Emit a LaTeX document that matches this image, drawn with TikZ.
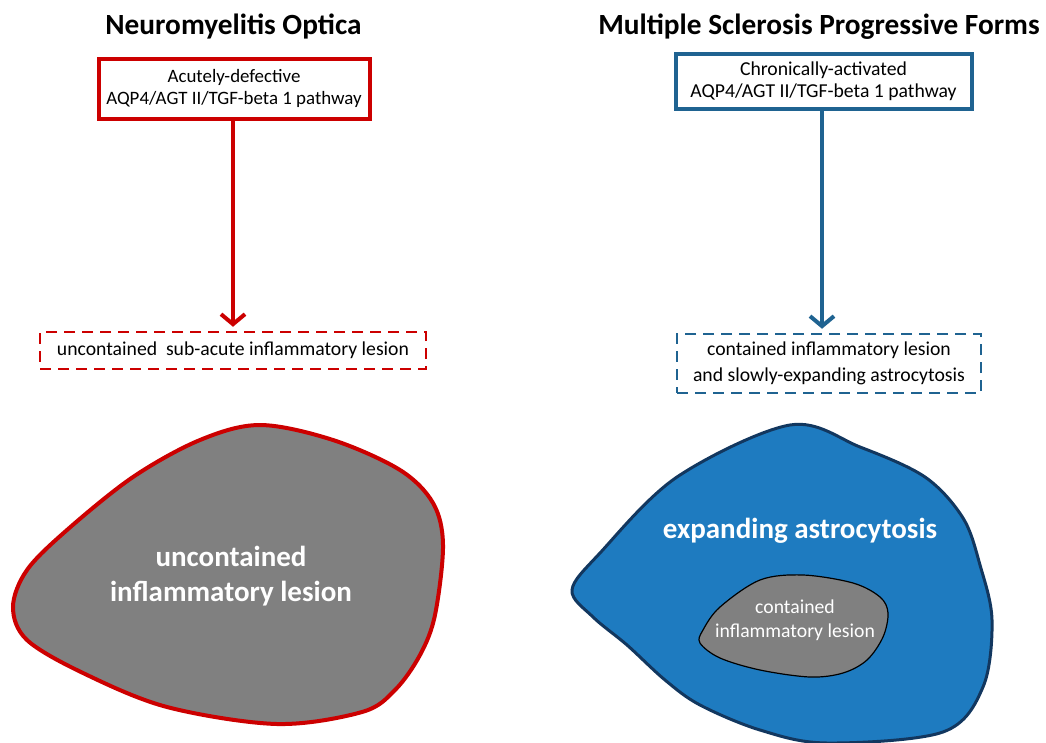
\documentclass[tikz,border=0pt]{standalone}
\usepackage{fontspec}
\setmainfont{Carlito}
\usetikzlibrary{arrows.meta}
\definecolor{nmored}{HTML}{CC0000}
\definecolor{msblue}{HTML}{1F6391}
\definecolor{blobblue}{HTML}{1E7BC0}
\definecolor{blobedge}{HTML}{12375F}
\definecolor{lesiongray}{HTML}{808080}
\begin{document}
\begin{tikzpicture}[x=1pt,y=-1pt,
  title/.style={font=\fontsize{29.3}{34}\selectfont\bfseries, anchor=center},
  pathbox/.style={draw, line width=4pt, fill=white, align=center, font=\fontsize{19.7}{22.5}\selectfont, inner sep=0pt},
  dashbox/.style={draw, line width=2.5pt, dash pattern=on 11pt off 7pt, fill=white, align=center, font=\fontsize{19.7}{26}\selectfont, inner sep=0pt},
  flow/.style={line width=4pt, -{Straight Barb[length=10pt,width=24pt]}, shorten >=4pt},
  bigtext/.style={text=white, font=\fontsize{29}{35}\selectfont\bfseries, align=center},
  smalltext/.style={text=white, font=\fontsize{19.7}{24}\selectfont, align=center}
]
\useasboundingbox (0,0) rectangle (1046,742);

% titles
\node[title] (t1) at (233.5,27) {Neuromyelitis Optica};
\node[title] (t2) at (819,27) {Multiple Sclerosis Progressive Forms};

% pathway boxes
\node[pathbox, draw=nmored, minimum width=271pt, minimum height=60pt, font=\fontsize{18.9}{22.5}\selectfont] (rbox) at (234,88.5) {Acutely-defective\\AQP4/AGT II/TGF-beta 1 pathway};
\node[pathbox, draw=msblue, minimum width=296pt, minimum height=55pt] (bbox) at (823.5,81) {Chronically-activated\\AQP4/AGT II/TGF-beta 1 pathway};

% dashed outcome boxes
\node[dashbox, draw=nmored, minimum width=386pt, minimum height=37pt] (rdash) at (233,350.5) {uncontained\ \ sub-acute inflammatory lesion};
\node[dashbox, draw=msblue, minimum width=304pt, minimum height=59pt] (bdash) at (829,363.5) {contained inflammatory lesion\\and slowly-expanding astrocytosis};

% arrows
\draw[flow, draw=nmored] (rbox.south -| 233,0) -- (233,0 |- rdash.north);
\draw[flow, draw=msblue] (bbox.south -| 822,0) -- (822,0 |- bdash.north);

% red blob (uncontained lesion)
\draw[nmored, line width=4pt, fill=lesiongray]
  plot[smooth cycle, tension=0.55] coordinates {
    (260,425) (333,440) (400,470) (433,503) (443,545) (435,615) (420,655)
    (395,690) (362,712) (277,724) (167,707) (83,673) (27,640) (13,607)
    (27,570) (67,530) (133,477) (200,440)};
\node[bigtext] (redlbl) at (231,576) {uncontained\\inflammatory lesion};

% blue blob (expanding astrocytosis)
\draw[blobedge, line width=3pt, fill=blobblue]
  plot[smooth cycle, tension=0.55] coordinates {
    (790,425) (860,447) (925,477) (963,518) (980,565) (992,620) (983,687)
    (943,732) (827,743) (760,730) (700,705) (665,680) (627,645) (593,617)
    (572,590) (600,553) (677,477)};
\node[bigtext] (bluelbl) at (800,531) {expanding astrocytosis};

% inner gray lesion
\draw[black, line width=1.2pt, fill=lesiongray]
  plot[smooth cycle, tension=0.55] coordinates {
    (720,607) (760,580) (803,575) (853,583) (880,597) (888,613) (883,637)
    (867,660) (843,673) (810,677) (760,670) (720,658) (700,643) (703,630)};
\node[smalltext] (innerlbl) at (795,620) {contained\\inflammatory lesion};
\end{tikzpicture}
\end{document}
